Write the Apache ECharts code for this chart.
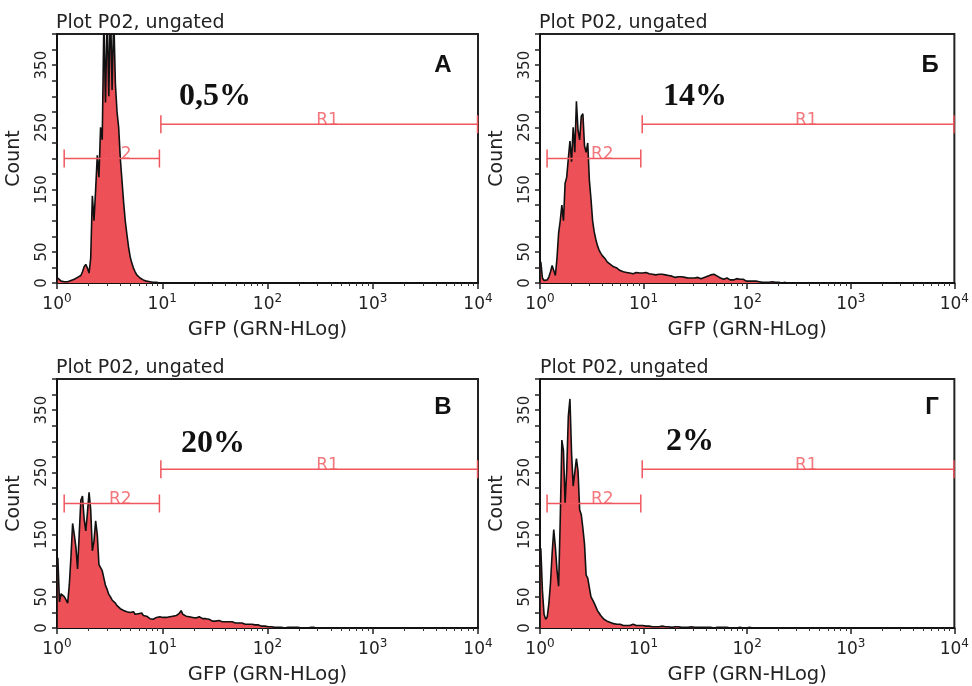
<!DOCTYPE html>
<html>
<head>
<meta charset="utf-8">
<script src="https://cdn.jsdelivr.net/npm/echarts@6/dist/echarts.min.js"></script>
<style>html,body{margin:0;padding:0;background:#fff}#c{width:972px;height:686px}</style>
</head>
<body>
<div id="c"></div>
<script>
// ---------------- data ----------------
const panelLetters = ['А', 'Б', 'В', 'Г'];
const percentLabels = ['0,5%', '14%', '20%', '2%'];
const plotTitle = 'Plot P02, ungated';
const xAxisTitle = 'GFP (GRN-HLog)';
const yAxisTitle = 'Count';
const xMajorTicks = [1, 10, 100, 1000, 10000];
const xMinorTicks = [2, 3, 4, 5, 6, 7, 8, 9, 20, 30, 40, 50, 60, 70, 80, 90,
  200, 300, 400, 500, 600, 700, 800, 900, 2000, 3000, 4000, 5000, 6000, 7000, 8000, 9000];
const yLabelValues = [0, 50, 150, 250, 350];
const channelsPerDecade = 64; // log channels: channel k spans 10^(k/64)..10^((k+1)/64)

const countsA = [8,5,3,3,2,3,2,3,4,4,6,8,9,10,12,18,26,30,24,16,40,140,100,150,205,170,250,230,420,290,
  440,300,450,310,430,320,275,250,200,165,130,100,78,58,42,32,24,18,13,10,8,6,5,4,3,3,2,2,1,2,1,1,0,1,0];
const countsB = [34,8,4,3,5,10,18,28,20,12,40,80,100,125,100,160,170,200,228,195,250,210,292,245,230,268,272,220,210,225,
  165,135,100,82,70,60,53,48,44,42,38,34,32,30,28,26,27,24,22,20,21,18,19,17,18,16,17,15,16,17,
  15,16,14,16,15,17,14,15,16,14,15,13,16,14,13,14,12,13,11,12,10,11,10,9,11,10,9,10,11,9,
  10,8,9,8,9,8,7,9,8,7,8,9,10,11,12,13,12,14,13,11,10,8,7,6,7,8,6,5,6,5,
  6,7,5,6,4,6,4,3,4,3,4,3,2,3,2,2,3,1,2,1,2,1,1,2,1,1,0,1,1,0,0,1,0];
const countsC = [113,42,55,58,50,45,40,70,115,168,150,130,95,150,205,212,175,156,185,218,190,124,140,172,150,102,
  100,92,80,68,62,54,50,45,42,40,36,33,31,30,28,30,26,24,25,22,26,22,20,23,21,24,20,18,19,17,15,16,14,15,
  17,16,18,16,17,18,17,19,18,20,19,21,20,22,24,28,22,21,19,20,18,19,17,18,16,17,18,16,15,14,
  15,13,14,12,11,12,11,10,12,11,10,11,10,9,10,11,10,9,8,9,8,7,8,7,6,7,6,5,6,6,
  5,4,5,4,3,4,3,4,2,3,2,2,1,2,1,2,1,1,0,1,1,0,1,0,1,0,1,0,0,1,0,1,0,0,1,0,1,0];
const countsD = [128,60,22,14,18,40,73,120,158,130,93,67,174,302,285,200,253,340,368,281,228,250,272,252,190,182,160,135,85,80,
  65,50,45,40,34,28,24,20,17,14,12,11,10,9,8,7,7,6,5,6,5,4,5,4,5,4,5,6,5,4,
  3,4,3,4,3,3,2,3,3,2,3,2,3,2,2,3,2,2,3,2,2,1,2,2,1,2,2,1,2,1,
  2,1,1,2,1,1,2,1,1,1,2,1,1,1,0,1,1,0,1,1,0,1,0,1,0,1,0,0,1,0,
  1,0,0,1,0,0,1,0,0,1,0,0,1,0,0,0,1,0,0,0,1,0,0,0,1,0];

const gateR1Range = [9.7, 9900];
const gateR1Level = 255;
const gateR1LabelAt = 372;
const gateR2Range = [1.17, 9.4];
const gateR2Level = 200;
const gateR2LabelAt = 4.0;

// ---------------- layout / style ----------------
const FONT = 'DejaVu Sans';
const grids = [
  {left: 57, top: 34, width: 421, height: 249},
  {left: 540, top: 34, width: 421, height: 249},
  {left: 57, top: 379, width: 421, height: 250},
  {left: 540, top: 379, width: 421, height: 250}
];
const countsList = [countsA, countsB, countsC, countsD];
const pctPos = [[215, 97], [695, 97], [213, 444], [690, 442]];
const letterPos = [[443, 65], [930, 65], [443, 407], [932, 407]];
const titlePos = [[56, 23], [539, 23], [56, 368], [540, 368]];
const FILL = '#ee5057';
const GATE = '#f0565e';

const xAxes = [], yAxes = [], series = [], graphics = [];

grids.forEach((g, i) => {
  xAxes.push({
    type: 'log', logBase: 10, gridIndex: i, min: 1, max: 10000, position: 'bottom',
    axisLine: {show: true, onZero: false, lineStyle: {color: '#111', width: 2}},
    axisTick: {show: true, customValues: xMajorTicks, length: 6, lineStyle: {color: '#222', width: 1.5}},
    axisLabel: {
      customValues: xMajorTicks, margin: 10, color: '#222',
      formatter: v => '{b|10}{s|' + Math.round(Math.log10(v)) + '}',
      rich: {
        b: {fontSize: 17, fontFamily: FONT, color: '#222', lineHeight: 24},
        s: {fontSize: 12, fontFamily: FONT, color: '#222', verticalAlign: 'top', lineHeight: 8}
      }
    },
    splitLine: {show: false},
    name: xAxisTitle, nameLocation: 'middle', nameGap: 37,
    nameTextStyle: {fontFamily: FONT, fontSize: 19.5, color: '#222'}
  });
  xAxes.push({
    type: 'log', logBase: 10, gridIndex: i, min: 1, max: 10000, position: 'bottom',
    axisLine: {show: false}, axisLabel: {show: false}, splitLine: {show: false},
    axisTick: {show: true, customValues: xMinorTicks, length: 3, lineStyle: {color: '#333', width: 1}}
  });
  yAxes.push({
    type: 'value', gridIndex: i, min: 0, max: 400, interval: 25,
    axisLine: {show: true, lineStyle: {color: '#111', width: 2}},
    axisTick: {show: true, length: 5, lineStyle: {color: '#222', width: 1.5}},
    axisLabel: {
      rotate: 90, fontSize: 15, fontFamily: FONT, color: '#222', margin: 7,
      formatter: v => (yLabelValues.indexOf(v) >= 0 ? String(v) : '')
    },
    splitLine: {show: false},
    name: yAxisTitle, nameLocation: 'middle', nameGap: 33,
    nameTextStyle: {fontFamily: FONT, fontSize: 19, color: '#222'}
  });

  const counts = countsList[i];
  series.push({
    type: 'line', xAxisIndex: 2 * i, yAxisIndex: i, symbol: 'none', clip: true,
    data: counts.map((v, k) => [Math.pow(10, (k + 0.5) / channelsPerDecade), v]),
    lineStyle: {color: '#111', width: 1.6},
    areaStyle: {color: FILL, opacity: 1},
    z: 2, silent: true
  });
  [[gateR1Range, gateR1Level], [gateR2Range, gateR2Level]].forEach(([r, lv]) => {
    series.push({
      type: 'line', xAxisIndex: 2 * i, yAxisIndex: i, clip: false,
      data: [[r[0], lv], [r[1], lv]],
      symbol: 'rect', symbolSize: [1.5, 18], showSymbol: true,
      lineStyle: {color: GATE, width: 1.5}, itemStyle: {color: GATE},
      z: 4, silent: true
    });
  });
  series.push({
    type: 'scatter', xAxisIndex: 2 * i, yAxisIndex: i, symbolSize: 0, z: 5, silent: true,
    data: [
      {value: [gateR1LabelAt, gateR1Level], name: 'R1'},
      {value: [gateR2LabelAt, gateR2Level], name: 'R2'}
    ],
    label: {show: true, position: 'inside', offset: [0, -4], formatter: p => p.name,
      color: GATE, fontSize: 17, fontFamily: FONT}
  });

  graphics.push({
    type: 'text', x: titlePos[i][0], y: titlePos[i][1], z: 10,
    style: {text: plotTitle, fontFamily: FONT, fontSize: 19, fill: '#222', align: 'left', verticalAlign: 'middle'}
  });
  graphics.push({
    type: 'text', x: pctPos[i][0], y: pctPos[i][1], z: 10,
    style: {text: percentLabels[i], fontFamily: 'Liberation Serif', fontWeight: 'bold', fontSize: 32,
      fill: '#111', align: 'center', verticalAlign: 'middle'}
  });
  graphics.push({
    type: 'text', x: letterPos[i][0], y: letterPos[i][1], z: 10,
    style: {text: panelLetters[i], fontFamily: 'Liberation Sans', fontWeight: 'bold', fontSize: 24,
      fill: '#111', align: 'center', verticalAlign: 'middle'}
  });
});

const chart = echarts.init(document.getElementById('c'), null, {renderer: 'canvas'});
chart.setOption({
  animation: false,
  backgroundColor: '#fff',
  grid: grids.map(g => Object.assign({show: true, borderColor: '#222', borderWidth: 2, backgroundColor: '#fff'}, g)),
  xAxis: xAxes,
  yAxis: yAxes,
  series: series,
  graphic: graphics
});
</script>
</body>
</html>
